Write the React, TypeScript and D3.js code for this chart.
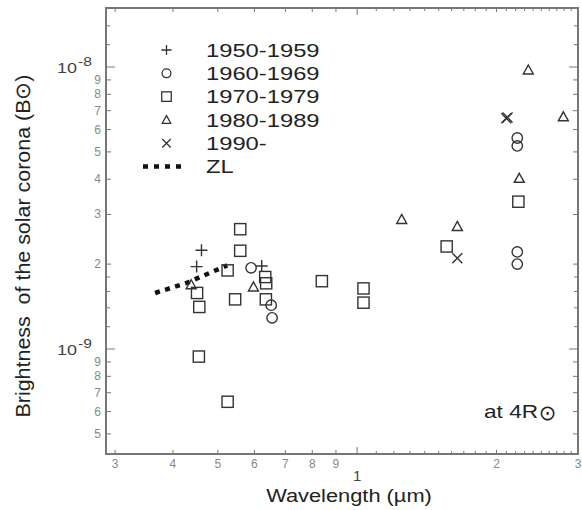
import React from "react";
import * as d3 from "d3";

const width = 582;
const height = 510;
const margin = { top: 8, right: 4, bottom: 56, left: 106 };

// [wavelength (µm), brightness (B⊙)]
const obs1950s = [
  [0.461, 2.24e-9],
  [0.45, 1.96e-9],
  [0.622, 1.97e-9],
];
const obs1960s = [
  [0.59, 1.94e-9],
  [0.652, 1.43e-9],
  [0.655, 1.29e-9],
  [2.218, 5.6e-9],
  [2.218, 5.25e-9],
  [2.218, 2.21e-9],
  [2.218, 2.0e-9],
];
const obs1970s = [
  [0.559, 2.66e-9],
  [0.559, 2.23e-9],
  [0.525, 1.9e-9],
  [0.451, 1.58e-9],
  [0.456, 1.41e-9],
  [0.545, 1.5e-9],
  [0.633, 1.8e-9],
  [0.636, 1.71e-9],
  [0.635, 1.5e-9],
  [0.455, 9.4e-10],
  [0.525, 6.5e-10],
  [0.839, 1.74e-9],
  [1.032, 1.64e-9],
  [1.032, 1.46e-9],
  [1.561, 2.31e-9],
  [2.23, 3.33e-9],
];
const obs1980s = [
  [2.343, 9.76e-9],
  [2.789, 6.66e-9],
  [2.24, 4.03e-9],
  [1.248, 2.88e-9],
  [1.646, 2.72e-9],
  [0.597, 1.66e-9],
  [0.438, 1.69e-9],
];
const obs1990s = [
  [2.1, 6.58e-9],
  [2.113, 6.62e-9],
  [1.646, 2.1e-9],
];
const zodiacalLight = [
  [0.366, 1.58e-9],
  [0.43, 1.72e-9],
  [0.524, 1.98e-9],
];

const seriesNames = ["1950-1959", "1960-1969", "1970-1979", "1980-1989", "1990-"];
const seriesMarkers = ["plus", "circle", "square", "triangle", "cross"];

const xMajorTicks = [1];
const xLabelTicks = [0.3, 0.4, 0.5, 0.6, 0.7, 0.8, 0.9, 2, 3];
const xFineTicks = [
  1.1, 1.2, 1.3, 1.4, 1.5, 1.6, 1.7, 1.8, 1.9,
  2.1, 2.2, 2.3, 2.4, 2.5, 2.6, 2.7, 2.8, 2.9,
];
const yMajorTicks = [1e-9, 1e-8];
const yLabelTicks = [
  5e-10, 6e-10, 7e-10, 8e-10, 9e-10,
  2e-9, 3e-9, 4e-9, 5e-9, 6e-9, 7e-9, 8e-9, 9e-9,
];
const yFineTicks = [1.2e-9, 1.4e-9, 1.6e-9, 1.8e-9, 1.2e-8, 1.4e-8];

const xScale = d3
  .scaleLog()
  .domain([0.2867, 3.0])
  .range([margin.left, width - margin.right]);
const yScale = d3
  .scaleLog()
  .domain([4.243e-10, 1.619e-8])
  .range([height - margin.bottom, margin.top]);

const ink = "#333";
const axisColor = "#777";
const font = "'Liberation Sans', Arial, Helvetica, sans-serif";

const leadDigit = (v) => Math.round(v / Math.pow(10, Math.floor(Math.log10(v) + 1e-9)));

function Marker({ type, cx, cy, s = 1, sw = 1.4 }) {
  const common = { fill: "none", stroke: ink, strokeWidth: sw };
  if (type === "plus") {
    const h = 6 * s;
    return <path d={`M${cx - h},${cy}H${cx + h}M${cx},${cy - h}V${cy + h}`} {...common} />;
  }
  if (type === "circle") return <circle cx={cx} cy={cy} r={5.2 * s} {...common} />;
  if (type === "square") {
    const h = 5.6 * s;
    return <rect x={cx - h} y={cy - h} width={2 * h} height={2 * h} {...common} />;
  }
  if (type === "triangle") {
    const w = 5 * s;
    return (
      <path
        d={`M${cx},${cy - 5 * s}L${cx + w},${cy + 4 * s}L${cx - w},${cy + 4 * s}Z`}
        {...common}
      />
    );
  }
  const h = 5 * s;
  return (
    <path
      d={`M${cx - h},${cy - h}L${cx + h},${cy + h}M${cx - h},${cy + h}L${cx + h},${cy - h}`}
      {...common}
    />
  );
}

export default function App() {
  const allSeries = [obs1950s, obs1960s, obs1970s, obs1980s, obs1990s];
  const x0 = margin.left;
  const x1 = width - margin.right;
  const y0 = height - margin.bottom;
  const y1 = margin.top;

  const zlLine = d3
    .line()
    .x((d) => xScale(d[0]))
    .y((d) => yScale(d[1]));

  const xTick = (v, len, key) => (
    <g key={key}>
      <line x1={xScale(v)} x2={xScale(v)} y1={y0} y2={y0 - len} stroke={axisColor} />
      <line x1={xScale(v)} x2={xScale(v)} y1={y1} y2={y1 + len} stroke={axisColor} />
    </g>
  );
  const yTick = (v, len, key) => (
    <g key={key}>
      <line x1={x0} x2={x0 + len} y1={yScale(v)} y2={yScale(v)} stroke={axisColor} />
      <line x1={x1} x2={x1 - len} y1={yScale(v)} y2={yScale(v)} stroke={axisColor} />
    </g>
  );

  return (
    <svg
      width={width}
      height={height}
      style={{ position: "absolute", left: 0, top: 0, background: "#fff" }}
      fontFamily={font}
    >
      {/* ticks */}
      {xFineTicks.map((v, i) => xTick(v, 3, "xf" + i))}
      {xLabelTicks.map((v, i) => xTick(v, 4, "xl" + i))}
      {xMajorTicks.map((v, i) => xTick(v, 7, "xm" + i))}
      {yFineTicks.map((v, i) => yTick(v, 4, "yf" + i))}
      {yLabelTicks.map((v, i) => yTick(v, 5, "yl" + i))}
      {yMajorTicks.map((v, i) => yTick(v, 9, "ym" + i))}

      {/* frame */}
      <rect x={x0} y={y1} width={x1 - x0} height={y0 - y1} fill="none" stroke={axisColor} strokeWidth={2} />

      {/* tick labels */}
      {xLabelTicks.map((v, i) => (
        <text key={"xt" + i} x={xScale(v)} y={468} fontSize={12} fill="#888" textAnchor="middle">
          {leadDigit(v)}
        </text>
      ))}
      {xMajorTicks.map((v, i) => (
        <text key={"xM" + i} x={xScale(v)} y={481} fontSize={15} fill="#444" textAnchor="middle">
          {leadDigit(v)}
        </text>
      ))}
      {yLabelTicks.map((v, i) => (
        <text key={"yt" + i} x={101} y={yScale(v) + 4} fontSize={12} fill="#888" textAnchor="end">
          {leadDigit(v)}
        </text>
      ))}
      {yMajorTicks.map((v, i) => (
        <g key={"yM" + i} fill="#444">
          <text transform={`translate(77,${yScale(v) + 6}) scale(1.2,1)`} fontSize={15} textAnchor="end">
            10
          </text>
          <text transform={`translate(78,${yScale(v) - 1}) scale(1.3,1)`} fontSize={12}>
            {"-" + Math.round(-Math.log10(v))}
          </text>
        </g>
      ))}

      {/* axis titles */}
      <text transform={`translate(349,502) scale(1.18,1)`} fontSize={18.5} fill="#222" textAnchor="middle">
        Wavelength (µm)
      </text>
      <text
        transform={`translate(30,246) scale(1.08,1) rotate(-90)`}
        fontSize={19.5}
        fill="#222"
        textAnchor="middle"
        textLength={343}
        lengthAdjust="spacingAndGlyphs"
        style={{ whiteSpace: "pre" }}
      >
        {"Brightness  of the solar corona (B⊙)"}
      </text>

      {/* ZL */}
      <path
        d={zlLine(zodiacalLight)}
        fill="none"
        stroke="#111"
        strokeWidth={4.5}
        strokeDasharray="5 5.5"
      />

      {/* observations */}
      {allSeries.map((pts, si) =>
        pts.map((d, i) => (
          <Marker key={si + "-" + i} type={seriesMarkers[si]} cx={xScale(d[0])} cy={yScale(d[1])} />
        ))
      )}

      {/* legend */}
      {seriesNames.map((name, i) => (
        <g key={"lg" + i}>
          <Marker type={seriesMarkers[i]} cx={166.5} cy={50 + i * 23.3} s={0.85} sw={1.3} />
          <text
            transform={`translate(206,${56.8 + i * 23.3}) scale(1.25,1)`}
            fontSize={19}
            fill="#222"
          >
            {name}
          </text>
        </g>
      ))}
      <line x1={143} x2={183} y1={166.5} y2={166.5} stroke="#111" strokeWidth={4.5} strokeDasharray="5 6" />
      <text transform={`translate(206,173.3) scale(1.25,1)`} fontSize={19} fill="#222">
        ZL
      </text>

      {/* annotation */}
      <text transform={`translate(484,418) scale(1.26,1)`} fontSize={18} fill="#222">
        at 4R
      </text>
      <text x={547.5} y={420} fontSize={21} fill="#222" textAnchor="middle" fontFamily="DejaVu Sans">
        ⊙
      </text>
    </svg>
  );
}
